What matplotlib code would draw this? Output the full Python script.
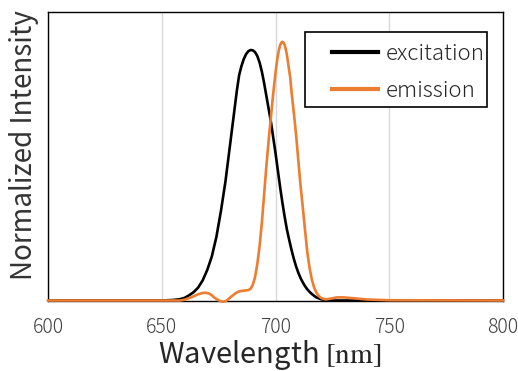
import matplotlib
matplotlib.use("Agg")
import matplotlib.pyplot as plt
from matplotlib.legend_handler import HandlerLine2D
from matplotlib.patches import Rectangle

plt.rcParams['font.family'] = ['Noto Sans CJK JP', 'DejaVu Sans']
plt.rcParams['font.weight'] = 'light'
plt.rcParams['mathtext.fontset'] = 'stix'

# Excitation spectrum (wavelength in nm, normalized intensity)
exc_wl = [600, 640, 650, 655, 658, 660, 662, 664, 666, 668, 670, 672, 674, 676, 678,
          680, 682, 683, 684, 685, 686, 687, 688, 689, 690, 691, 692, 693, 694,
          695, 696, 697, 698, 699, 700, 701, 702, 703, 704, 705, 706, 707, 708,
          709, 710, 711, 712, 713, 714, 715, 716, 717, 718, 720, 722, 725, 760, 800]
exc_val = [0, 0, 0, 0.002, 0.005, 0.01, 0.02, 0.032, 0.05, 0.078, 0.118, 0.17, 0.245,
           0.345, 0.46, 0.6, 0.74, 0.81, 0.87, 0.905, 0.932, 0.951, 0.963, 0.968,
           0.967, 0.96, 0.945, 0.92, 0.885, 0.84, 0.79, 0.74, 0.69, 0.63, 0.57,
           0.505, 0.44, 0.38, 0.325, 0.275, 0.235, 0.197, 0.163, 0.133, 0.108,
           0.087, 0.07, 0.055, 0.043, 0.033, 0.025, 0.018, 0.012, 0.005, 0.002, 0,
           0, 0]

# Emission spectrum (wavelength in nm, normalized intensity)
emi_wl = [600, 650, 658, 660, 662, 664, 666, 668, 669, 670, 671, 672, 673, 674, 675,
          676, 677, 678, 679, 680, 681, 682, 683, 684, 685, 686, 687, 688, 689,
          690, 691, 692, 693, 694, 695, 696, 697, 698, 699, 700, 700.5, 701,
          701.5, 702, 702.5, 703, 703.5, 704, 704.5, 705, 705.5, 706, 706.5, 707,
          708, 709, 710, 711, 712, 713, 714, 715, 716, 717, 718, 719, 720, 722,
          724, 727, 730, 734, 740, 750, 800]
emi_val = [0, 0, 0, 0.003, 0.009, 0.016, 0.024, 0.029, 0.03, 0.029, 0.026, 0.02,
           0.012, 0.006, 0.001, -0.003, -0.005, -0.003, 0.003, 0.011, 0.018, 0.025,
           0.031, 0.035, 0.037, 0.038, 0.039, 0.04, 0.045, 0.06, 0.09, 0.14, 0.21,
           0.3, 0.41, 0.52, 0.62, 0.71, 0.8, 0.88, 0.915, 0.945, 0.968, 0.985,
           0.996, 1.0, 0.997, 0.988, 0.972, 0.95, 0.92, 0.89, 0.86, 0.81, 0.73,
           0.645, 0.545, 0.445, 0.36, 0.27, 0.185, 0.125, 0.08, 0.05, 0.03, 0.018,
           0.01, 0.004, 0.007, 0.012, 0.012, 0.009, 0.004, 0.001, 0]

x_ticks = [600, 650, 700, 750, 800]


class InsetLineHandler(HandlerLine2D):
    """Legend line that leaves blank space on its left side."""

    def __init__(self, inset_px, **kw):
        super().__init__(**kw)
        self.inset_px = inset_px

    def create_artists(self, legend, orig_handle, xdescent, ydescent,
                       width, height, fontsize, trans):
        return super().create_artists(legend, orig_handle,
                                      xdescent - self.inset_px, ydescent,
                                      width - self.inset_px, height,
                                      fontsize, trans)


fig = plt.figure(figsize=(5.18, 3.71), dpi=100)
ax = fig.add_axes([48 / 518, 1 - 300.5 / 371, 455 / 518, 288.5 / 371])

l_exc, = ax.plot(exc_wl, exc_val, color='black', lw=1.9, label='excitation',
                 zorder=3, solid_joinstyle='round')
l_emi, = ax.plot(emi_wl, emi_val, color='#ED7D31', lw=1.9, label='emission',
                 zorder=4, clip_on=False, solid_joinstyle='round')

ax.set_xlim(600, 800)
ax.set_ylim(0, 1.115)
ax.set_xticks(x_ticks)
ax.set_yticks([])
ax.grid(axis='x', color='#D9D9D9', lw=1.0)
ax.set_axisbelow(True)
for s in ax.spines.values():
    s.set_color('black')
    s.set_linewidth(1.0)

ax.tick_params(axis='x', length=0, pad=12, labelsize=14, labelcolor='#404040')
ax.set_xlabel(r'Wavelength $[\mathrm{nm}]$', fontsize=21, color='#262626')
ax.xaxis.set_label_coords((270 - 48) / 455, -0.13)
ax.set_ylabel('Normalized Intensity', fontsize=20, color='#333333')
ax.yaxis.set_label_coords(-0.02, 0.539)

# legend box drawn as its own frame so the padding can be uneven
ax.add_patch(Rectangle((0.565, 0.671), 0.4, 0.26, transform=ax.transAxes,
                       facecolor='white', edgecolor='black', lw=1.2, zorder=5))

inset = 15.5  # points
leg = ax.legend(handles=[l_exc, l_emi], loc='upper right',
                bbox_to_anchor=(0.9604, 0.8936), borderaxespad=0,
                fontsize=16, frameon=False,
                handlelength=3.06, handletextpad=0.36,
                labelspacing=0.7, borderpad=0,
                handler_map={l_exc: InsetLineHandler(inset),
                             l_emi: InsetLineHandler(inset)})
leg.set_zorder(6)
for h in leg.get_lines():
    h.set_linewidth(3)
for t in leg.get_texts():
    t.set_color('#262626')

fig.savefig('out.png', dpi=100)
